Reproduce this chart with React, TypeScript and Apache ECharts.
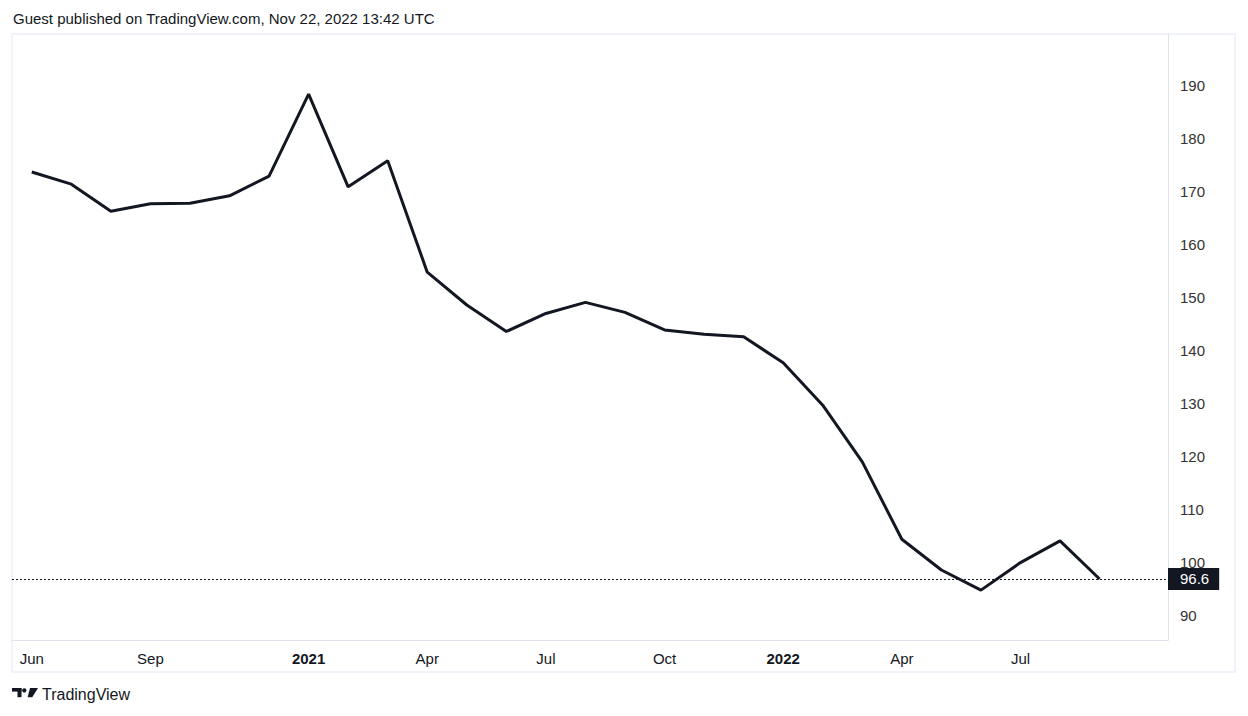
import React, { useEffect, useRef } from "react";
import * as echarts from "echarts";

// Monthly observations, Jun 2020 .. Sep 2022
const monthLabels = [
  "Jun", "Jul", "Aug", "Sep", "Oct", "Nov", "Dec",
  "2021", "Feb", "Mar", "Apr", "May", "Jun", "Jul", "Aug", "Sep", "Oct", "Nov", "Dec",
  "2022", "Feb", "Mar", "Apr", "May", "Jun", "Jul", "Aug", "Sep",
];
const values = [
  173.4, 171.1, 166.0, 167.4, 167.5, 168.9, 172.6,
  188.1, 170.6, 175.5, 154.5, 148.3, 143.3, 146.7, 148.8, 146.9, 143.6, 142.8, 142.3,
  137.4, 129.4, 118.7, 104.1, 98.3, 94.5, 99.7, 103.8, 96.6,
];
const xTickIndices = [0, 3, 7, 10, 13, 16, 19, 22, 25];
const yTicks = [90, 100, 110, 120, 130, 140, 150, 160, 170, 180, 190];
const lastValue = 96.6;
const headerText = "Guest published on TradingView.com, Nov 22, 2022 13:42 UTC";
const footerText = "TradingView";

const FONT = "'Liberation Sans', Arial, sans-serif";

export default function App() {
  const ref = useRef<HTMLDivElement>(null);

  useEffect(() => {
    document.body.style.margin = "0";
    if (!ref.current) return;
    const chart = echarts.init(ref.current, undefined, { renderer: "svg" });
    const data = values.map((v, i) => [i, v]);

    chart.setOption({
      animation: false,
      backgroundColor: "#ffffff",
      textStyle: { fontFamily: FONT },
      grid: { left: 12, top: 34, width: 1156, height: 606, containLabel: false },
      xAxis: {
        type: "value",
        min: -0.5,
        max: 28.73,
        position: "bottom",
        axisLine: { show: true, onZero: false, lineStyle: { color: "#e0e3eb", width: 1 } },
        axisTick: { show: false },
        splitLine: { show: false },
        axisLabel: {
          customValues: xTickIndices,
          margin: 11,
          color: "#131722",
          fontSize: 15,
          fontFamily: FONT,
          formatter: (v: number) => {
            const t = monthLabels[Math.round(v)] ?? "";
            return /^\d{4}$/.test(t) ? `{b|${t}}` : t;
          },
          rich: {
            b: { fontWeight: "bold", fontSize: 15, color: "#131722", fontFamily: FONT },
          },
        },
      },
      yAxis: {
        type: "value",
        position: "right",
        min: 85.09,
        max: 199.43,
        axisLine: { show: true, onZero: false, lineStyle: { color: "#e0e3eb", width: 1 } },
        axisTick: { show: false },
        splitLine: { show: false },
        axisLabel: {
          customValues: yTicks,
          margin: 12,
          color: "#333333",
          fontSize: 15,
          fontFamily: FONT,
          align: "left",
          formatter: (v: number) => `{a|${v}}`,
          rich: {
            a: { color: "#333333", fontSize: 15, fontFamily: FONT, padding: [3, 0, 0, 0] },
          },
        },
      },
      series: [
        {
          type: "line",
          data,
          symbol: "none",
          lineStyle: { color: "#131722", width: 3 },
          markLine: {
            silent: true,
            symbol: "none",
            data: [{ yAxis: lastValue }],
            lineStyle: { type: [2, 2], color: "#131722", width: 1 },
            label: {
              show: true,
              position: "end",
              distance: 0,
              formatter: () => String(lastValue),
              color: "#ffffff",
              backgroundColor: "#131722",
              fontSize: 15,
              fontFamily: FONT,
              padding: [4, 10, 3, 12],
            },
          },
        },
      ],
      graphic: [
        {
          type: "rect",
          silent: true,
          z: -1,
          shape: { x: 12, y: 34, width: 1223, height: 638 },
          style: { fill: "none", stroke: "#f0f3fa", lineWidth: 2 },
        },
        {
          type: "text",
          left: 13,
          top: 11,
          style: { text: headerText, fill: "#131722", fontSize: 15, fontFamily: FONT },
        },
        {
          type: "group",
          left: 12,
          top: 688,
          children: [
            { type: "rect", shape: { x: 0, y: 0, width: 9.5, height: 3.6 }, style: { fill: "#131722" } },
            { type: "rect", shape: { x: 5.5, y: 0, width: 4, height: 9.2 }, style: { fill: "#131722" } },
            { type: "circle", shape: { cx: 12.3, cy: 2.4, r: 2.1 }, style: { fill: "#131722" } },
            {
              type: "polygon",
              shape: { points: [[18, 0], [26, 0], [20.2, 9.2], [15.6, 9.2]] },
              style: { fill: "#131722" },
            },
          ],
        },
        {
          type: "text",
          left: 42,
          top: 686,
          style: { text: footerText, fill: "#131722", fontSize: 16, fontFamily: FONT },
        },
      ],
    });

    return () => chart.dispose();
  }, []);

  return <div ref={ref} style={{ width: 1248, height: 716 }} />;
}
